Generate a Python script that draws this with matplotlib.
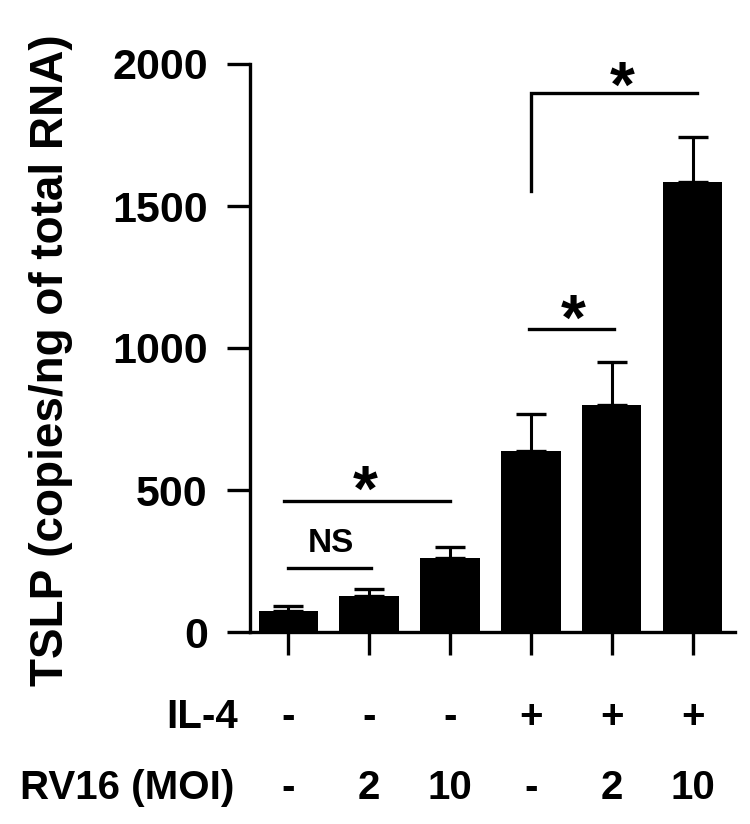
import matplotlib
matplotlib.use("Agg")
import matplotlib.pyplot as plt
from matplotlib.transforms import blended_transform_factory

# data
means = [75, 126, 259, 637, 801, 1584]
errors = [17, 24, 41, 129, 148, 160]
il4 = ['-', '-', '-', '+', '+', '+']
rv16 = ['-', '2', '10', '-', '2', '10']
yticks = [0, 500, 1000, 1500, 2000]
ylabel = 'TSLP (copies/ng of total RNA)'

FONT = 'Liberation Sans'
W, H = 750, 824
fig = plt.figure(figsize=(7.5, 8.24), dpi=100)
ax = fig.add_axes([250/W, 1-632/H, (735-250)/W, (632-64)/H])

x = list(range(len(means)))
ax.bar(x, means, width=0.73, color='black', zorder=2)
ax.errorbar(x, means, yerr=[[0]*len(errors), errors], fmt='none', ecolor='black',
            elinewidth=2.2, capsize=11, capthick=2.4, zorder=1)

ax.set_ylim(0, 2000)
ax.set_xlim(-0.47, 5.52)
ax.set_yticks(yticks)
ax.set_yticklabels([str(t) for t in yticks], fontfamily=FONT,
                   fontweight='bold', fontsize=31)
ax.set_xticks(x)
ax.set_xticklabels([])
for s in ['top', 'right']:
    ax.spines[s].set_visible(False)
for s in ['left', 'bottom']:
    ax.spines[s].set_linewidth(2.4)
ax.tick_params(axis='both', length=16.5, width=2.4, pad=14)

ax.set_ylabel(ylabel, fontfamily=FONT, fontweight='bold', fontsize=33)
ax.yaxis.set_label_coords((73-250)/485, (632-360)/568)

lw = 2.4
star_kw = dict(ha='center', va='baseline', fontsize=46, fontfamily=FONT,
               fontweight='bold')
# significance marks
ax.plot([0, 1.03], [226, 226], color='black', lw=lw)
ax.text(0.535, 280, 'NS', ha='center', va='baseline', fontsize=24,
        fontfamily=FONT, fontweight='bold')
ax.plot([-0.05, 2.0], [460, 460], color='black', lw=lw)
ax.text(0.957, 428, '*', **star_kw)
ax.plot([2.98, 4.02], [1067, 1067], color='black', lw=lw)
ax.text(3.52, 1030, '*', **star_kw)
ax.plot([3.0, 3.0, 5.05], [1552, 1898, 1898], color='black', lw=lw,
        solid_joinstyle='miter')
ax.text(4.13, 1850, '*', **star_kw)

# condition rows
tr = blended_transform_factory(ax.transData, fig.transFigure)
row_kw = dict(va='baseline', fontsize=29, fontfamily=FONT, fontweight='bold')
for i in x:
    ax.text(i, 1-728/H, il4[i], transform=tr, ha='center', **row_kw)
    ax.text(i, 1-799/H, rv16[i], transform=tr, ha='center', **row_kw)
fig.text(238/W, 1-728/H, 'IL-4', ha='right', **row_kw)
fig.text(234/W, 1-799/H, 'RV16 (MOI)', ha='right', **row_kw)

fig.savefig('out.png', dpi=100)
